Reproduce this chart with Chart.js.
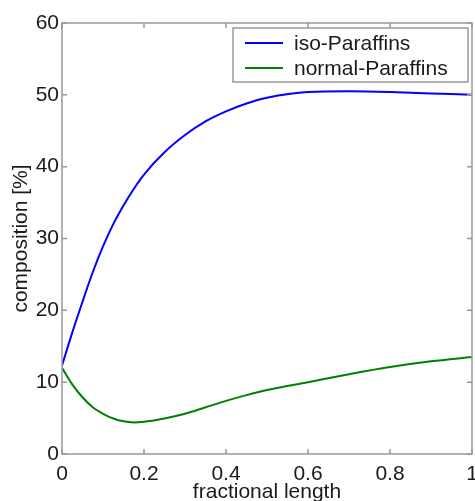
<!DOCTYPE html>
<html>
<head>
<meta charset="utf-8">
<script src="https://cdn.jsdelivr.net/npm/chart.js@4/dist/chart.umd.min.js"></script>
<style>
    html, body { margin: 0; padding: 0; background: #fff; }
    #wrap { width: 475px; height: 501px; }
</style>
</head>
<body>
<div id="wrap"><canvas id="chart" width="475" height="501"></canvas></div>
<script>
// ── Datos ─────────────────────────────────────────────────────
const fracLength = [0, 0.025, 0.05, 0.075, 0.1, 0.125, 0.15, 0.175, 0.2, 0.25, 0.3, 0.35, 0.4, 0.45, 0.5, 0.6, 0.7, 0.8, 0.9, 1.0];
const isoParaffins    = [12.3, 16.9, 21.2, 25.3, 28.9, 32.0, 34.6, 36.9, 38.9, 42.0, 44.4, 46.3, 47.7, 48.8, 49.6, 50.4, 50.5, 50.4, 50.2, 50.0];
const normalParaffins = [12.0, 9.7, 7.9, 6.5, 5.6, 4.95, 4.55, 4.4, 4.5, 4.95, 5.6, 6.5, 7.4, 8.2, 8.9, 10.0, 11.1, 12.1, 12.9, 13.5];
const seriesLabels = ['iso-Paraffins', 'normal-Paraffins'];
const seriesColors = ['#0000ff', '#008000'];
const xTitle = 'fractional length';
const yTitle = 'composition [%]';

const FONT = { family: '"Liberation Sans", Arial, sans-serif', size: 21 };
const TEXT = '#1a1a1a';
const FRAME = '#999';

const toPoints = ys => fracLength.map((x, i) => ({ x, y: ys[i] }));

// ── Marco completo con ticks hacia adentro (estilo MATLAB) ────
const framePlugin = {
    id: 'frame',
    afterDatasetsDraw(chart) {
        const { ctx, chartArea: a, scales: { x, y } } = chart;
        const L = 5;
        ctx.save();
        ctx.strokeStyle = FRAME;
        ctx.lineWidth = 1.5;
        ctx.strokeRect(a.left, a.top, a.right - a.left, a.bottom - a.top);
        ctx.beginPath();
        x.ticks.forEach(t => {
            const px = x.getPixelForValue(t.value);
            ctx.moveTo(px, a.bottom); ctx.lineTo(px, a.bottom - L);
            ctx.moveTo(px, a.top);    ctx.lineTo(px, a.top + L);
        });
        y.ticks.forEach(t => {
            const py = y.getPixelForValue(t.value);
            ctx.moveTo(a.left, py);  ctx.lineTo(a.left + L, py);
            ctx.moveTo(a.right, py); ctx.lineTo(a.right - L, py);
        });
        ctx.stroke();
        ctx.restore();
    },
};

// ── Leyenda con recuadro dentro del área ──────────────────────
const legendPlugin = {
    id: 'boxLegend',
    afterDraw(chart) {
        const { ctx, chartArea: a } = chart;
        const box = { x: a.left + 171, y: a.top + 5, w: 235, h: 54 };
        ctx.save();
        ctx.fillStyle = '#fff';
        ctx.fillRect(box.x, box.y, box.w, box.h);
        ctx.strokeStyle = FRAME;
        ctx.lineWidth = 1.5;
        ctx.strokeRect(box.x, box.y, box.w, box.h);
        ctx.font = `${FONT.size}px ${FONT.family}`;
        ctx.textBaseline = 'middle';
        chart.data.datasets.forEach((ds, i) => {
            const cy = box.y + 15 + i * 25;
            ctx.strokeStyle = ds.borderColor;
            ctx.lineWidth = 2;
            ctx.beginPath();
            ctx.moveTo(box.x + 12, cy);
            ctx.lineTo(box.x + 50, cy);
            ctx.stroke();
            ctx.fillStyle = TEXT;
            ctx.fillText(ds.label, box.x + 61, cy + 1);
        });
        ctx.restore();
    },
};

new Chart(document.getElementById('chart'), {
    type: 'line',
    data: {
        datasets: [isoParaffins, normalParaffins].map((ys, i) => ({
            label: seriesLabels[i],
            data: toPoints(ys),
            borderColor: seriesColors[i],
            backgroundColor: seriesColors[i],
            borderWidth: 2,
            pointRadius: 0,
            cubicInterpolationMode: 'monotone',
            fill: false,
        })),
    },
    options: {
        responsive: false,
        animation: false,
        layout: { padding: { left: 0, top: 23, right: 3, bottom: 0 } },
        plugins: { legend: { display: false }, tooltip: { enabled: false } },
        scales: {
            x: {
                type: 'linear',
                min: 0, max: 1,
                grid: { display: false, drawTicks: false },
                border: { display: false },
                ticks: {
                    stepSize: 0.2, padding: 8, color: TEXT, font: FONT, maxRotation: 0,
                    callback: v => String(+v.toFixed(1)),
                },
                title: { display: true, text: xTitle, color: TEXT, font: { ...FONT, lineHeight: 1 }, padding: { top: 0, bottom: -2 } },
                afterFit(s) { s.height = 47; s.paddingLeft = 0; s.paddingRight = 0; },
            },
            y: {
                min: 0, max: 60,
                grid: { display: false, drawTicks: false },
                border: { display: false },
                ticks: { stepSize: 10, padding: 3, color: TEXT, font: FONT },
                title: { display: true, text: yTitle, color: TEXT, font: { ...FONT, lineHeight: 1 }, padding: { top: 11, bottom: 0 } },
                afterFit(s) { s.width = 62; s.paddingTop = 0; s.paddingBottom = 0; },
            },
        },
    },
    plugins: [framePlugin, legendPlugin],
});
</script>
</body>
</html>
